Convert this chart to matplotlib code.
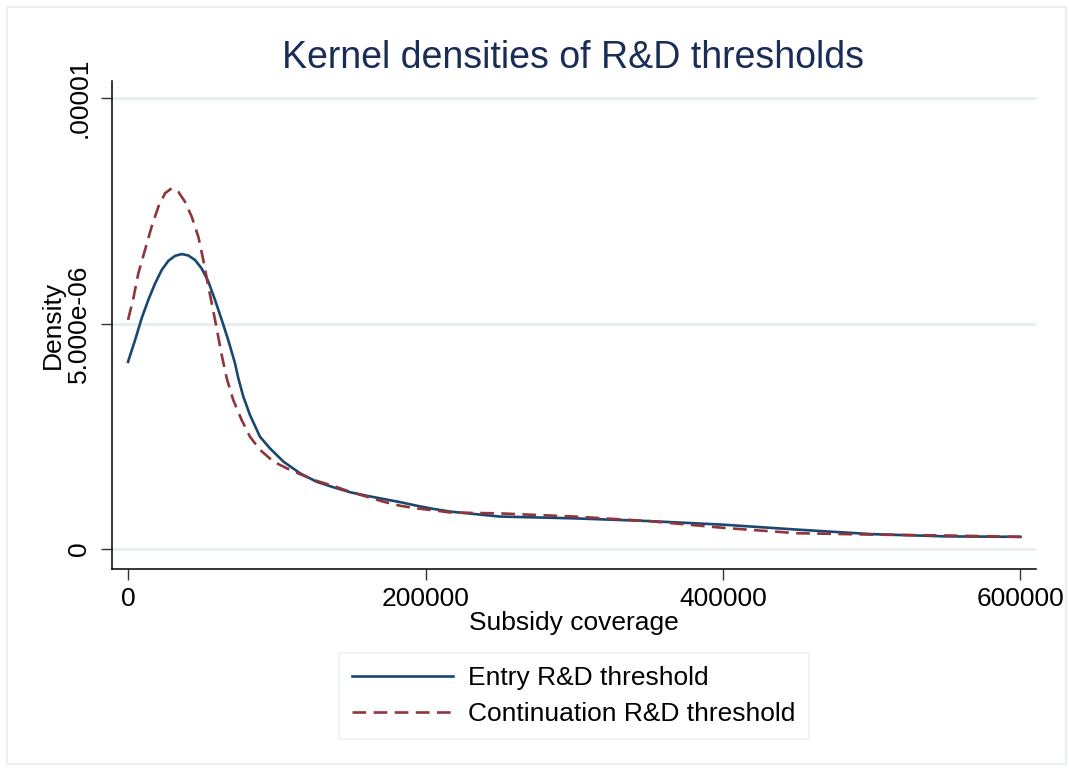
import numpy as np
import matplotlib
matplotlib.use("Agg")
import matplotlib.pyplot as plt
from matplotlib.patches import Rectangle

plt.rcParams['font.family'] = ['Liberation Sans', 'DejaVu Sans']

# kernel density estimates (density in units of 1e-6)
entry_x = [0, 4700, 9200, 13600, 18200, 22700, 27100, 31600, 36100, 40500,
           45000, 49500, 54000, 58500, 63000, 67400, 71900, 74200, 77500, 82000,
           88700, 95500, 104400, 115600, 126900, 138000, 149200, 160500, 171600, 182900,
           194100, 205200, 216500, 250000, 300000, 350000, 400000, 450000, 500000, 550000,
           600000]
entry_y = [4.15, 4.63, 5.12, 5.52, 5.89, 6.19, 6.39, 6.50, 6.54, 6.51,
           6.41, 6.22, 5.93, 5.52, 5.08, 4.63, 4.12, 3.78, 3.38, 2.97,
           2.49, 2.23, 1.94, 1.68, 1.49, 1.37, 1.26, 1.18, 1.11, 1.04,
           0.96, 0.89, 0.83, 0.72, 0.68, 0.62, 0.54, 0.43, 0.33, 0.28,
           0.27]

cont_x = [0, 3600, 6900, 11400, 15900, 20400, 24900, 29400, 33800, 38300,
          42800, 47300, 50600, 54000, 58500, 63000, 66400, 70800, 76400, 82000,
          88700, 97700, 106700, 115600, 126900, 138000, 149200, 160500, 171600, 182900,
          194100, 205200, 216500, 250000, 300000, 350000, 400000, 450000, 500000, 550000,
          600000]
cont_y = [5.08, 5.56, 6.11, 6.63, 7.15, 7.59, 7.89, 8.00, 7.92, 7.70,
          7.37, 6.92, 6.41, 5.82, 5.08, 4.30, 3.78, 3.30, 2.86, 2.49,
          2.20, 1.94, 1.79, 1.66, 1.51, 1.40, 1.27, 1.16, 1.05, 0.96,
          0.90, 0.86, 0.81, 0.79, 0.72, 0.62, 0.47, 0.35, 0.32, 0.30,
          0.27]

entry_y = np.array(entry_y) * 1e-6
cont_y = np.array(cont_y) * 1e-6

xticks = [0, 200000, 400000, 600000]
yticks = [0, 5e-06, 1e-05]
ytick_labels = ['0', '5.000e-06', '.00001']

navy = '#1a476f'
maroon = '#90353b'
grid_col = '#e6eef0'

fig = plt.figure(figsize=(10.69, 7.71), dpi=100)
fig.patches.append(Rectangle((0.007, 0.009), 0.990, 0.982, transform=fig.transFigure,
                             fill=False, edgecolor=grid_col, lw=1.2))

ax = fig.add_axes([0.1048, 0.2620, 0.8643, 0.6329])
for y in yticks:
    ax.axhline(y, color=grid_col, lw=2.0, zorder=0)

ax.plot(entry_x, entry_y, color=navy, lw=1.9, label='Entry R&D threshold')
ax.plot(cont_x, cont_y, color=maroon, lw=1.9, dashes=(5.2, 2.8),
        label='Continuation R&D threshold')

ax.set_xlim(-10756, 610420)
ax.set_ylim(-0.443e-6, 10.377e-6)
ax.set_xticks(xticks)
ax.set_xticklabels([str(v) for v in xticks], fontsize=19)
ax.set_yticks(yticks)
ax.set_yticklabels(ytick_labels, fontsize=19, rotation=90, va='center')
ax.tick_params(direction='out', length=8, width=1, color='#333333', pad=5)
ax.tick_params(axis='y', pad=7)
for side in ['top', 'right']:
    ax.spines[side].set_visible(False)
for side in ['left', 'bottom']:
    ax.spines[side].set_linewidth(1.1)

ax.set_xlabel('Subsidy coverage', fontsize=19, labelpad=0)
ax.set_ylabel('Density', fontsize=19, labelpad=2)
fig.text(0.536, 0.912, 'Kernel densities of R&D thresholds', ha='center', va='baseline',
         fontsize=27, color='#1a2d57')

leg = fig.legend(loc='center', bbox_to_anchor=(0.537, 0.097), fontsize=19,
                 frameon=True, fancybox=False, edgecolor=grid_col, handlelength=3.8,
                 borderpad=0.5, labelspacing=0.45, handletextpad=0.6, borderaxespad=0)
leg.get_frame().set_linewidth(1.2)

fig.savefig('out.png', dpi=100)
